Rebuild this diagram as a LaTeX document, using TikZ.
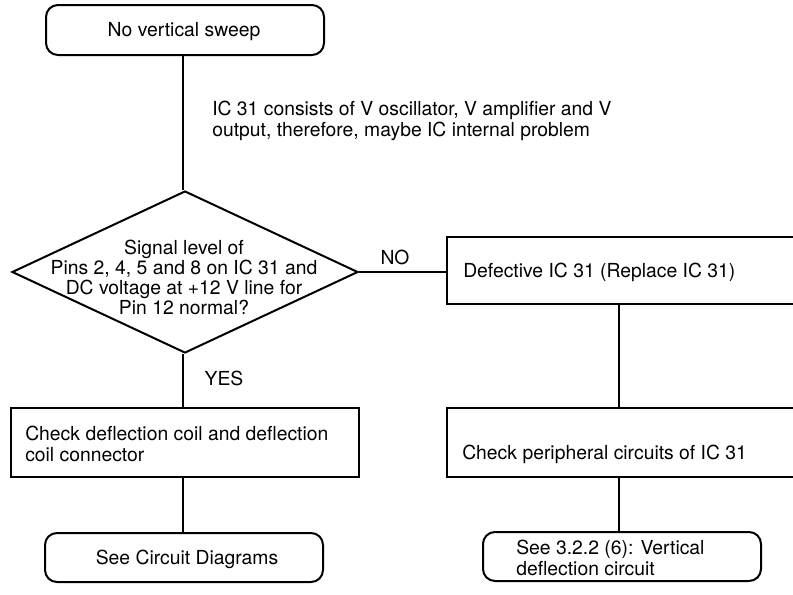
\documentclass[tikz,border=0pt]{standalone}
\usepackage{fontspec}
\setmainfont{TeX Gyre Heros}
\usetikzlibrary{shapes.geometric}
\begin{document}
\begin{tikzpicture}[x=0.75pt,y=-0.75pt,
  every node/.style={font=\fontsize{14.5}{15.5}\selectfont},
  line/.style={line width=1.5pt,line join=miter},
  rbox/.style={draw,line width=1.5pt,rounded corners=9pt,inner sep=0pt},
  sbox/.style={draw,line width=1.5pt,rectangle,inner sep=0pt},
  txt/.style={inner sep=0pt}]
\useasboundingbox (0,0) rectangle (793,594);
\clip (0,0) rectangle (793,594);
% nodes
\node[rbox,minimum width=278*0.75pt,minimum height=50*0.75pt] (start) at (185,30) {};
\node[txt] (starttxt) at (184,32) {No vertical sweep};
\node[draw,line width=1.5pt,diamond,inner sep=0pt,minimum width=346*0.75pt,minimum height=162*0.75pt] (dec) at (185,272) {};
\node[txt,align=center,font=\fontsize{14.5}{15}\selectfont] (dectxt) at (184,277) {Signal level of\\Pins 2, 4, 5 and 8 on IC 31 and\\DC voltage at +12 V line for\\Pin 12 normal?};
\node[txt,anchor=west,align=left] (note) at (212,121) {IC 31 consists of V oscillator, V amplifier and V\\output, therefore, maybe IC internal problem};
\node[sbox,minimum width=353*0.75pt,minimum height=67*0.75pt] (defect) at (623.5,270.5) {};
\node[txt,anchor=west] (defecttxt) at (463,272) {Defective IC 31 (Replace IC 31)};
\node[sbox,minimum width=348*0.75pt,minimum height=69*0.75pt] (coil) at (185,442.5) {};
\node[txt,anchor=west,align=left] (coiltxt) at (25,444) {Check deflection coil and deflection\\coil connector};
\node[sbox,minimum width=353*0.75pt,minimum height=69*0.75pt] (periph) at (623.5,442.5) {};
\node[txt,anchor=west] (periphtxt) at (462,454) {Check peripheral circuits of IC 31};
\node[rbox,minimum width=278*0.75pt,minimum height=49*0.75pt] (endl) at (184,557.5) {};
\node[txt] (endltxt) at (187,559) {See Circuit Diagrams};
\node[rbox,minimum width=278*0.75pt,minimum height=49*0.75pt] (endr) at (622,556.5) {};
\node[txt,anchor=west,align=left] (endrtxt) at (516,558) {See 3.2.2 (6): Vertical\\deflection circuit};
\node[txt] (no) at (395,257) {NO};
\node[txt] (yes) at (224,378) {YES};
\coordinate (colL) at (183,0);
\coordinate (colR) at (619,0);
% connectors
\draw[line] (start.south -| colL) -- (dec.north -| colL);
\draw[line] (dec.east) -- (dec.east -| defect.west);
\draw[line] (dec.south -| colL) -- (coil.north -| colL);
\draw[line] (coil.south -| colL) -- (endl.north -| colL);
\draw[line] (defect.south -| colR) -- (periph.north -| colR);
\draw[line] (periph.south -| colR) -- (endr.north -| colR);
\end{tikzpicture}
\end{document}
